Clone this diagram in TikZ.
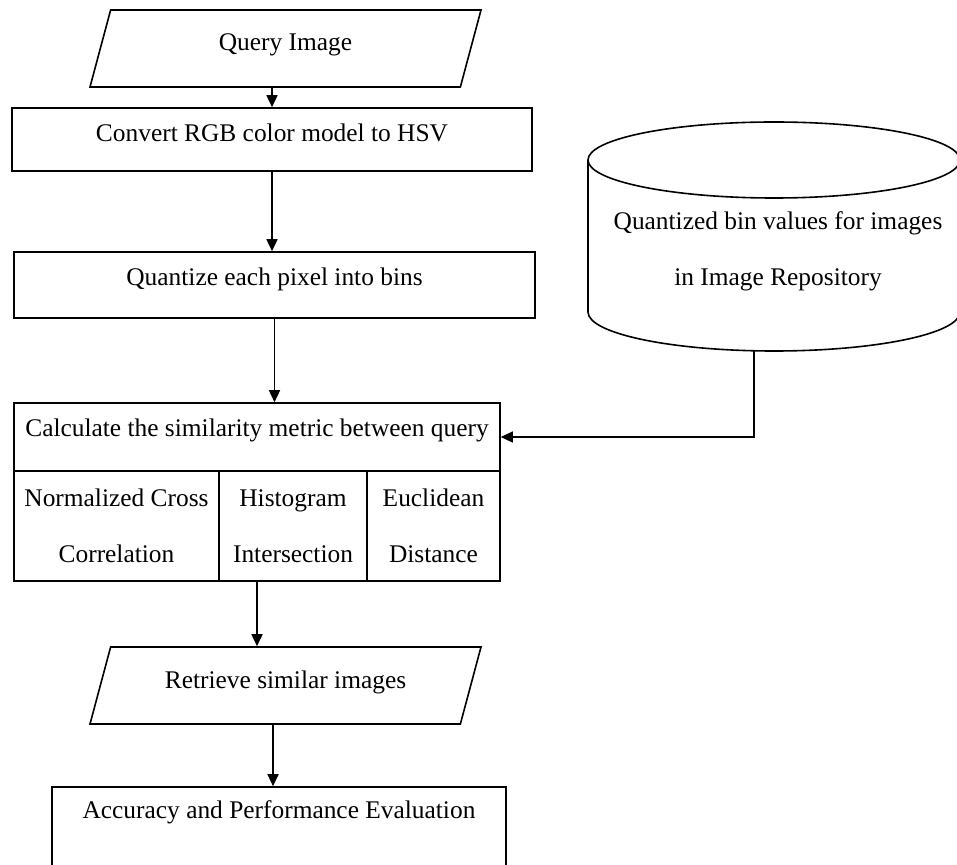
\documentclass[tikz,border=0pt]{standalone}
\usepackage{fontspec}
\setmainfont{Liberation Serif}
\usetikzlibrary{arrows.meta,positioning,shapes.geometric}

\begin{document}
\begin{tikzpicture}[x=0.5pt,y=-0.5pt,
  every node/.style={font=\fontsize{12.7}{28}\selectfont},
  proc/.style={draw,rectangle,line width=.8pt,inner ysep=0pt,text height=16.7pt},
  io/.style={draw,trapezium,trapezium left angle=75,trapezium right angle=105,
    trapezium stretches body,line width=.8pt,inner ysep=0pt,minimum width=195.5pt},
  cell/.style={draw,rectangle,line width=.8pt,align=center,inner sep=0pt,minimum height=55pt},
  arr/.style={line width=.8pt,-{Triangle[length=6pt,width=5.5pt]}}]
\useasboundingbox (0,0) rectangle (957,865);
\clip (0,0) rectangle (957,865);
\node[io,text height=20.2pt,text depth=18.3pt] (qimg) at (285.5,48.5) {Query Image};
\node[proc,minimum width=260pt,text depth=14.8pt] (rgb) at (272,139.5) {Convert RGB color model to HSV};
\node[proc,minimum width=260.5pt,text depth=16.3pt] (quant) at (274.5,285) {Quantize each pixel into bins};
\node[proc,minimum width=243pt,text depth=17.3pt] (calc) at (257,437) {Calculate the similarity metric between query};
\node[cell,minimum width=102.5pt] (ncc) at (116.5,526) {Normalized Cross\\Correlation};
\node[cell,minimum width=74pt] (hist) at (293,526) {Histogram\\Intersection};
\node[cell,minimum width=66.5pt] (eucl) at (433.5,526) {Euclidean\\Distance};
\node[io,text height=20.7pt,text depth=17.8pt] (retr) at (285.5,685.5) {Retrieve similar images};
\node[proc,minimum width=227pt,text height=15.7pt,text depth=34.3pt] (acc) at (279,837) {Accuracy and Performance Evaluation};
\draw[line width=.8pt] (588,160) -- (588,312) arc[start angle=180,end angle=0,x radius=186,y radius=39] -- (960,160);
\draw[line width=.8pt] (774,160) ellipse [x radius=186,y radius=38];
\node[align=center] (repo) at (778,251.5) {Quantized bin values for images\\in Image Repository};
\coordinate (repobot) at (754,351);
\draw[arr] (rgb.north |- qimg.south) -- (rgb.north);
\draw[arr] (rgb.south) -- (rgb.south |- quant.north);
\draw[arr] (quant.south) -- (quant.south |- calc.north);
\draw[arr] (calc.south |- hist.south) -- (calc.south |- retr.north);
\draw[arr] ([xshift=-6.25pt]retr.south) -- ([xshift=-6.25pt]retr.south |- acc.north);
\draw[arr,line width=.6pt] (repobot) |- (calc.east);
\end{tikzpicture}
\end{document}
